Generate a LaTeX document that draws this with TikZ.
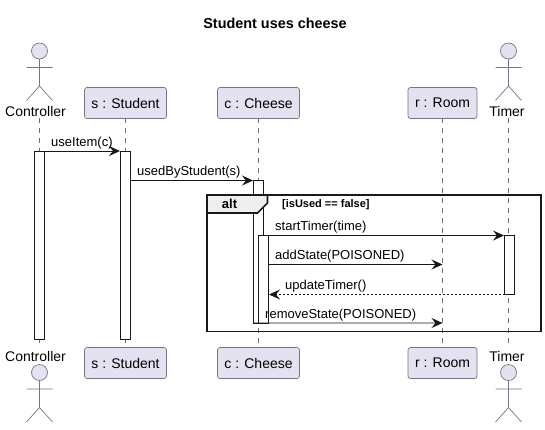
\documentclass[tikz,border=0pt]{standalone}
\usepackage{fontspec}
\setmainfont{Liberation Sans}
\usetikzlibrary{arrows.meta,calc}
\definecolor{partfill}{HTML}{E2E2F0}
\definecolor{partline}{HTML}{757585}
\definecolor{lifeline}{HTML}{6E6E6E}
\definecolor{inkc}{HTML}{181818}
\definecolor{tabfill}{HTML}{EEEEEE}
\newcommand{\actorfig}[2]{% x, head centre y
  \draw[actorline,fill=partfill] (#1,#2) circle (8);
  \draw[actorline] (#1,#2+8) -- (#1,#2+35) (#1-13,#2+16.5) -- (#1+13,#2+16.5)
    (#1-13,#2+49.5) -- (#1,#2+35) -- (#1+13,#2+49.5);
}
\tikzset{
  x=1bp,y=-1bp,
  partbox/.style={draw=partline,fill=partfill,rounded corners=2.5bp,line width=0.7bp,minimum height=31bp,inner sep=0pt,outer sep=0pt,font=\fontsize{14bp}{16bp}\selectfont,text=black,anchor=north},
  actorlabel/.style={font=\fontsize{14bp}{16bp}\selectfont,text=black,inner sep=0pt},
  actorline/.style={draw=partline,line width=0.7bp},
  lifedash/.style={draw=lifeline,line width=0.6bp,dash pattern=on 5bp off 5bp},
  actbox/.style={draw=inkc,fill=white,line width=0.9bp,inner sep=0pt,outer sep=0pt,minimum width=10bp,anchor=north west},
  msg/.style={draw=inkc,line width=0.9bp,-{Stealth[length=11bp,width=10bp,inset=4bp]}},
  retmsg/.style={msg,dash pattern=on 2bp off 2bp},
  msglabel/.style={font=\fontsize{13bp}{15bp}\selectfont,text=black,inner sep=0pt,anchor=base west},
  framebox/.style={draw=black!90,line width=1.7bp},
}
\begin{document}
\begin{tikzpicture}
\useasboundingbox (0,0) rectangle (545,429);
\node[font=\fontsize{14.4bp}{16bp}\selectfont\bfseries,inner sep=0pt] (title) at (275,23) {Student uses cheese};
% lifelines
\coordinate (lc1) at (39.5,118); \coordinate (lc2) at (39.5,347);
\coordinate (ls1) at (125.5,118); \coordinate (ls2) at (125.5,347);
\coordinate (lk1) at (258.5,118); \coordinate (lk2) at (258.5,347);
\coordinate (lr1) at (442.5,118); \coordinate (lr2) at (442.5,347);
\coordinate (lt1) at (508.5,118); \coordinate (lt2) at (508.5,347);
\foreach \a/\b in {lc1/lc2,ls1/ls2,lk1/lk2,lr1/lr2,lt1/lt2} \draw[lifedash] (\a) -- (\b);
% participants
\node[partbox,minimum width=82bp] (sT) at (125.5,87.5) {s : Student};
\node[partbox,minimum width=82bp] (cT) at (258.5,87.5) {c : Cheese};
\node[partbox,minimum width=69bp] (rT) at (442.5,87.5) {r : Room};
\node[partbox,minimum width=82bp] (sB) at (125.5,347.5) {s : Student};
\node[partbox,minimum width=82bp] (cB) at (258.5,347.5) {c : Cheese};
\node[partbox,minimum width=69bp] (rB) at (442.5,347.5) {r : Room};
% actors
\actorfig{39.5}{51}
\actorfig{508.5}{51}
\actorfig{39.5}{372.5}
\actorfig{508.5}{372.5}
\node[actorlabel] (ctT) at (35.5,111) {Controller};
\node[actorlabel] (tmT) at (507,111) {Timer};
\node[actorlabel] (ctB) at (35.5,356) {Controller};
\node[actorlabel] (tmB) at (507,356) {Timer};
% activations
\node[actbox,minimum height=188bp] (ac) at (34.5,151) {};
\node[actbox,minimum height=188bp] (as) at (120.5,151) {};
\node[actbox,minimum height=142.5bp] (ak1) at (253.5,180.5) {};
\node[actbox,minimum height=87.5bp] (ak2) at (258.5,235.5) {};
\node[actbox,minimum height=59bp] (at) at (504.5,235.5) {};
% frame
\draw[framebox] (207,195) rectangle (541,331.5);
\draw[framebox,fill=tabfill] (207,195) -- (267.5,195) -- (267.5,203) -- (257.5,213) -- (207,213) -- cycle;
\node[font=\fontsize{13bp}{15bp}\selectfont\bfseries,inner sep=0pt] (alt) at (229.5,204) {alt};
\node[font=\fontsize{11bp}{13bp}\selectfont\bfseries,inner sep=0pt,anchor=base west] (guard) at (282,207.5) {[isUsed == false]};
% message endpoints
\coordinate (e1) at (120,151);
\coordinate (e2) at (253,180.5);
\coordinate (e3) at (504,235.5);
\coordinate (e4) at (442.5,264.5);
\coordinate (e5) at (269,294.5);
\coordinate (e6) at (442.5,323);
\draw[msg] (ac.north east) -- (e1);
\draw[msg] (as.east |- e2) -- (e2);
\draw[msg] (ak2.north east) -- (e3);
\draw[msg] (ak2.east |- e4) -- (e4);
\draw[retmsg] (at.west |- e5) -- (e5);
\draw[msg] (ak1.south west) -- (e6);
% labels
\node[msglabel] (m1) at (51,146) {useItem(c)};
\node[msglabel] (m2) at (137,175) {usedByStudent(s)};
\node[msglabel] (m3) at (275,230) {startTimer(time)};
\node[msglabel] (m4) at (275,259) {addState(POISONED)};
\node[msglabel] (m5) at (285,289) {updateTimer()};
\node[msglabel] (m6) at (265,318) {removeState(POISONED)};
\end{tikzpicture}
\end{document}
